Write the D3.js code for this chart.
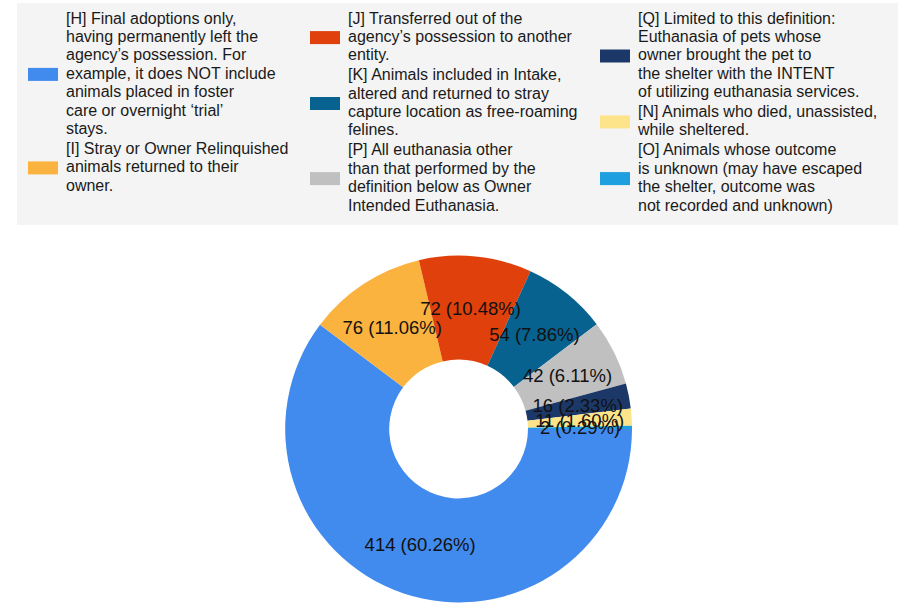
<!DOCTYPE html>
<html>
<head>
<meta charset="utf-8">
<script src="https://cdn.jsdelivr.net/npm/d3@7"></script>
<style>
  html, body { margin: 0; padding: 0; background: #ffffff; }
  svg { display: block; font-family: "Liberation Sans", Arial, sans-serif; }
</style>
</head>
<body>
<svg id="chart" width="898" height="604"></svg>
<script>
const categories = ["H", "I", "J", "K", "P", "Q", "N", "O"];
const values = [414, 76, 72, 54, 42, 16, 11, 2];
const colors = ["#418bef", "#fbb33f", "#e0400b", "#07628f", "#c0c0c0", "#1c3869", "#fde38a", "#1d9fe0"];
const legendLines = [
  ["[H] Final adoptions only,", "having permanently left the", "agency\u2019s possession. For", "example, it does NOT include", "animals placed in foster", "care or overnight \u2018trial\u2019", "stays."],
  ["[I] Stray or Owner Relinquished", "animals returned to their", "owner."],
  ["[J] Transferred out of the", "agency\u2019s possession to another", "entity."],
  ["[K] Animals included in Intake,", "altered and returned to stray", "capture location as free-roaming", "felines."],
  ["[P] All euthanasia other", "than that performed by the", "definition below as Owner", "Intended Euthanasia."],
  ["[Q] Limited to this definition:", "Euthanasia of pets whose", "owner brought the pet to", "the shelter with the INTENT", "of utilizing euthanasia services."],
  ["[N] Animals who died, unassisted,", "while sheltered."],
  ["[O] Animals whose outcome", "is unknown (may have escaped", "the shelter, outcome was", "not recorded and unknown)"]
];
const legendColumn = [0, 0, 1, 1, 1, 2, 2, 2];

const svg = d3.select("#chart");

// Legend box
svg.append("rect").attr("x", 17).attr("y", 3).attr("width", 881).attr("height", 222).attr("fill", "#f4f4f4");

const colX = [28, 310, 600];
const lineH = 18.4;
const colY = [10, 10, 10];
const total = d3.sum(values);

categories.forEach((c, i) => {
  const col = legendColumn[i];
  const lines = legendLines[i];
  const y0 = colY[col];
  const g = svg.append("g");
  const blockH = lines.length * lineH;
  g.append("rect")
    .attr("x", colX[col]).attr("y", y0 + blockH / 2 - 6.5)
    .attr("width", 30).attr("height", 13)
    .attr("fill", colors[i]);
  const t = g.append("text")
    .attr("x", colX[col] + 38).attr("y", y0)
    .attr("font-size", 16).attr("fill", "#1a1a1a");
  lines.forEach((ln, k) => {
    t.append("tspan").attr("x", colX[col] + 38).attr("y", y0 + k * lineH + 13.5).text(ln);
  });
  colY[col] += blockH + 1.5;
});

// Donut
const cx = 458.6, cy = 429, outerR = 173.4, innerR = 69.4;
const pie = d3.pie().sort(null).startAngle(Math.PI / 2).endAngle(Math.PI / 2 + 2 * Math.PI);
const arcs = pie(values);
const arc = d3.arc().innerRadius(innerR).outerRadius(outerR);
const g = svg.append("g").attr("transform", `translate(${cx},${cy})`);
g.selectAll("path").data(arcs).join("path")
  .attr("d", arc)
  .attr("fill", (d, i) => colors[i]);
g.selectAll("text").data(arcs).join("text")
  .attr("transform", d => `translate(${arc.centroid(d)})`)
  .attr("text-anchor", "middle")
  .attr("dy", "0.35em")
  .attr("font-size", 18.5)
  .attr("fill", "#111111")
  .text(d => `${d.data} (${(d.data / total * 100).toFixed(2)}%)`);
</script>
</body>
</html>
